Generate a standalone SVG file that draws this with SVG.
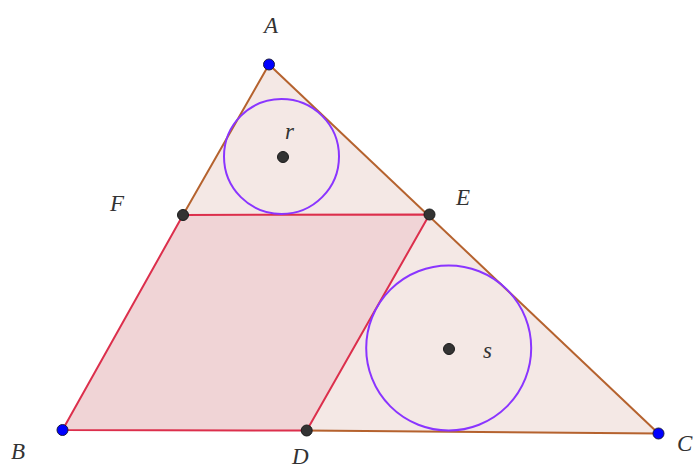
<svg xmlns="http://www.w3.org/2000/svg" width="694" height="468" viewBox="0 0 694 468">
<style>
.lbl{font-family:"Liberation Serif","DejaVu Serif",serif;font-style:italic;font-size:23px;fill:#333}
.tri{fill:#f4e8e5;stroke:none}
.edge{stroke:#b5622e;stroke-width:2;fill:none;stroke-linecap:round}
.par{fill:#f0d4d6;stroke:#dc2f4c;stroke-width:2;stroke-linejoin:round}
.circ{fill:none;stroke:#8a35ff;stroke-width:2}
.pb{fill:#0000ff;stroke:#1a1a40;stroke-width:1}
.pd{fill:#333;stroke:#1a1a1a;stroke-width:1}
</style>
<rect width="694" height="468" fill="#fff"/>
<polygon id="triangle" class="tri" points="269,64.5 62.5,430 658.5,433.5"/>
<g id="parallelogram"><polygon class="par" points="62.5,430 183,215 429.5,214.5 306.7,430.5"/></g>
<g id="connectors">
<line class="edge" x1="269" y1="64.5" x2="183" y2="215"/>
<line class="edge" x1="269" y1="64.5" x2="658.5" y2="433.5"/>
<line class="edge" x1="306.7" y1="430.5" x2="658.5" y2="433.5"/>
</g>
<g id="circle-r"><circle class="circ" cx="281.5" cy="156.5" r="57.5"/><circle class="pd" cx="283" cy="157" r="5.5"/><text class="lbl" x="285" y="139" font-size="21">r</text></g>
<g id="circle-s"><circle class="circ" cx="448.7" cy="348" r="82.5"/><circle class="pd" cx="449" cy="349" r="5.5"/><text class="lbl" x="483" y="358" font-size="21">s</text></g>
<g id="A"><circle class="pb" cx="269" cy="64.5" r="5.5"/><text class="lbl" x="264" y="33">A</text></g>
<g id="B"><circle class="pb" cx="62.5" cy="430" r="5.5"/><text class="lbl" x="11" y="459">B</text></g>
<g id="C"><circle class="pb" cx="658.5" cy="433.5" r="5.5"/><text class="lbl" x="677" y="451">C</text></g>
<g id="D"><circle class="pd" cx="306.7" cy="430.5" r="5.5"/><text class="lbl" x="292" y="464">D</text></g>
<g id="E"><circle class="pd" cx="429.5" cy="214.5" r="5.5"/><text class="lbl" x="456" y="205">E</text></g>
<g id="F"><circle class="pd" cx="183" cy="215" r="5.5"/><text class="lbl" x="110" y="211">F</text></g>
</svg>
